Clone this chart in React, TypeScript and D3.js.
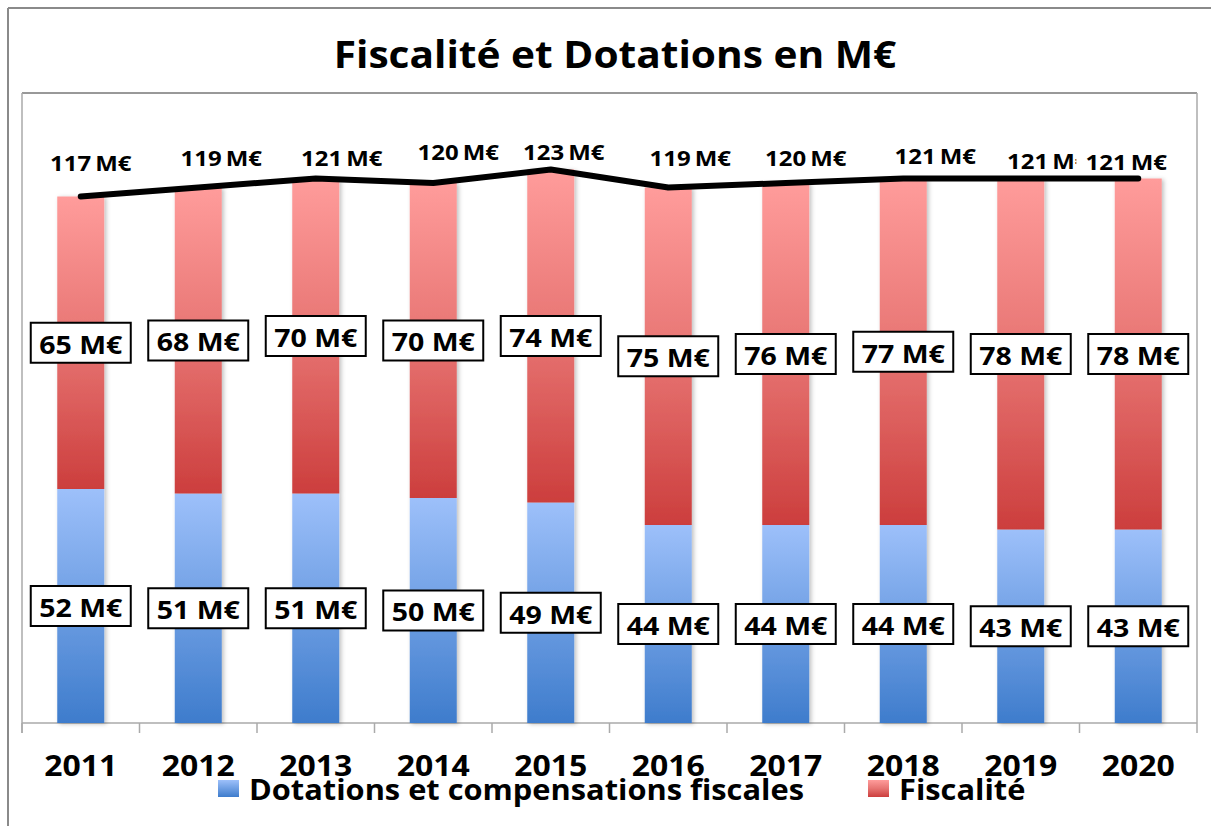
import React from "react";
import * as d3 from "d3";

const years = ["2011", "2012", "2013", "2014", "2015", "2016", "2017", "2018", "2019", "2020"];
const dotations = [52, 51, 51, 50, 49, 44, 44, 44, 43, 43];
const fiscalite = [65, 68, 70, 70, 74, 75, 76, 77, 78, 78];
const totals = [117, 119, 121, 120, 123, 119, 120, 121, 121, 121];
const seriesNames = ["Dotations et compensations fiscales", "Fiscalité"];
const title = "Fiscalité et Dotations en M€";

// label nudges (px) for total labels, relative to line points
const totalLabelDx = [10, 23, 26, 25, 13, 22, 20, 32, 27, -12];
const totalLabelDy = [-33, -29, -20, -31, -17, -29, -25, -22, -17, -16];

const W = 1211;
const H = 826;
const FONT = "'Open Sans', sans-serif";

function SText({ x, y, size, sx = 1.14, anchor = "middle", children, baseline = "central" }: any) {
  return (
    <text
      transform={`translate(${x},${y}) scale(${sx},1)`}
      textAnchor={anchor}
      dominantBaseline={baseline}
      fontFamily={FONT}
      fontWeight={700}
      fontSize={size}
      fill="#000"
    >
      {children}
    </text>
  );
}

export default function App() {
  const left = 22, right = 1197, top = 93, bottom = 723;
  const band = d3.scaleBand().domain(years).range([left, right]).padding(0);
  const y = d3.scaleLinear().domain([0, 140]).range([bottom, top]);
  const bw = 47;
  const cx = (yr: string) => band(yr)! + band.bandwidth() / 2;

  const line = d3
    .line<number>()
    .x((_, i) => cx(years[i]))
    .y((d) => y(d))
    .curve(d3.curveLinear);

  return (
    <svg width={W} height={H} style={{ position: "absolute", left: 0, top: 0 }}>
      <defs>
        <linearGradient id="gBlue" x1="0" y1="0" x2="0" y2="1">
          <stop offset="0" stopColor="#9DC0FA" />
          <stop offset="1" stopColor="#3E7CCC" />
        </linearGradient>
        <linearGradient id="gRed" x1="0" y1="0" x2="0" y2="1">
          <stop offset="0" stopColor="#FF9C9B" />
          <stop offset="0.5" stopColor="#E77472" />
          <stop offset="1" stopColor="#CC3E3D" />
        </linearGradient>
        <filter id="shadow" x="-20%" y="-5%" width="150%" height="115%">
          <feDropShadow dx="2" dy="1" stdDeviation="2" floodColor="#000" floodOpacity="0.25" />
        </filter>
      </defs>
      <rect x={0} y={0} width={W} height={H} fill="#fff" />
      {/* outer border */}
      <line x1={8} y1={8} x2={W} y2={8} stroke="#8a8a8a" strokeWidth={2} />
      <line x1={8} y1={8} x2={8} y2={H} stroke="#8a8a8a" strokeWidth={2} />

      <SText x={615} y={54} size={38} sx={1.07}>{title}</SText>

      {/* plot area border */}
      <line x1={left} y1={top} x2={right} y2={top} stroke="#333" strokeWidth={1} />
      <line x1={right} y1={top} x2={right} y2={bottom + 10} stroke="#aaa" strokeWidth={1.5} />
      <line x1={left} y1={top} x2={left} y2={bottom + 10} stroke="#aaa" strokeWidth={1.5} />
      <line x1={left} y1={bottom} x2={right} y2={bottom} stroke="#aaa" strokeWidth={1.5} />
      {years.map((yr) => (
        <line key={"t" + yr} x1={band(yr)!} x2={band(yr)!} y1={bottom} y2={bottom + 10} stroke="#aaa" strokeWidth={1.5} />
      ))}

      {/* bars */}
      <g filter="url(#shadow)">
        {years.map((yr, i) => (
          <g key={"b" + yr}>
            <rect x={cx(yr) - bw / 2} width={bw} y={y(dotations[i])} height={y(0) - y(dotations[i])} fill="url(#gBlue)" />
            <rect
              x={cx(yr) - bw / 2}
              width={bw}
              y={y(dotations[i] + fiscalite[i])}
              height={y(dotations[i]) - y(dotations[i] + fiscalite[i])}
              fill="url(#gRed)"
            />
          </g>
        ))}
      </g>

      {/* total line */}
      <path d={line(totals)!} fill="none" stroke="#000" strokeWidth={6} strokeLinecap="round" strokeLinejoin="round" />

      {/* total labels */}
      {years.map((yr, i) => (
        <g key={"tl" + yr}>
          <rect
            x={cx(yr) + totalLabelDx[i] - 50}
            y={y(totals[i]) + totalLabelDy[i] - 12}
            width={96}
            height={22}
            fill="#fff"
            opacity={i === 9 ? 1 : 0}
          />
          <SText x={cx(yr) + totalLabelDx[i]} y={y(totals[i]) + totalLabelDy[i]} size={21} sx={1.14}>
            {totals[i]}{"\u2009"}M€
          </SText>
        </g>
      ))}

      {/* segment labels */}
      {years.map((yr, i) => {
        const ym1 = (y(0) + y(dotations[i])) / 2;
        const ym2 = (y(dotations[i]) + y(dotations[i] + fiscalite[i])) / 2;
        return (
          <g key={"sl" + yr}>
            {[
              [ym1, dotations[i]],
              [ym2, fiscalite[i]],
            ].map(([ym, v], j) => (
              <g key={j}>
                <rect x={cx(yr) - 50} y={ym - 20} width={100} height={40} fill="#fff" stroke="#000" strokeWidth={2} />
                <SText x={cx(yr)} y={ym + 1} size={25} sx={1.14}>
                  {v} M€
                </SText>
              </g>
            ))}
          </g>
        );
      })}

      {/* x labels */}
      {years.map((yr) => (
        <SText key={"xl" + yr} x={cx(yr)} y={765} size={28} sx={1.14}>
          {yr}
        </SText>
      ))}

      {/* legend */}
      <rect x={218} y={780} width={21} height={17} fill="url(#gBlue)" />
      <SText x={249} y={790} size={28} sx={1.1} anchor="start">{seriesNames[0]}</SText>
      <rect x={868} y={780} width={21} height={17} fill="url(#gRed)" />
      <SText x={899} y={790} size={28} sx={1.1} anchor="start">{seriesNames[1]}</SText>
    </svg>
  );
}
